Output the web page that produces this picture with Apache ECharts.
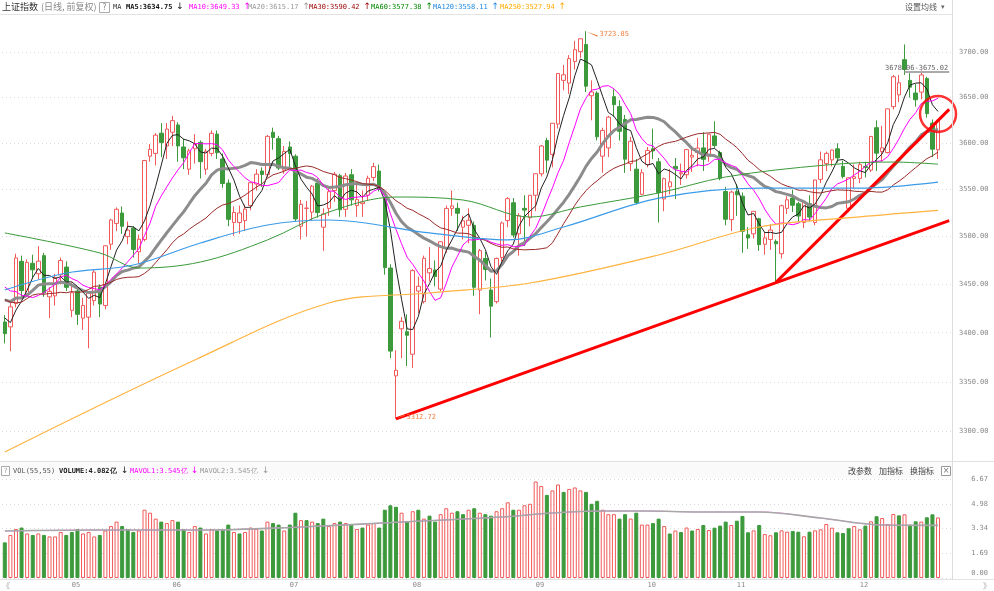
<!DOCTYPE html>
<html><head><meta charset="utf-8">
<script src="https://cdn.jsdelivr.net/npm/echarts@6/dist/echarts.min.js"></script>
<style>html,body{margin:0;padding:0;background:#fff}#c{width:994px;height:591px}</style>
</head><body><div id="c"></div><script>
// ---------- data (read / estimated from the picture) ----------
const dates = ['04-15','04-16','04-19','04-20','04-21','04-22','04-23','04-26','04-27','04-28','04-29','04-30',
'05-06','05-07','05-10','05-11','05-12','05-13','05-14','05-17','05-18','05-19','05-20','05-21','05-24','05-25','05-26','05-27','05-28','05-31',
'06-01','06-02','06-03','06-04','06-07','06-08','06-09','06-10','06-11','06-15','06-16','06-17','06-18','06-21','06-22','06-23','06-24','06-25','06-28','06-29','06-30',
'07-01','07-02','07-05','07-06','07-07','07-08','07-09','07-12','07-13','07-14','07-15','07-16','07-19','07-20','07-21','07-22','07-23','07-26','07-27','07-28','07-29','07-30',
'08-02','08-03','08-04','08-05','08-06','08-09','08-10','08-11','08-12','08-13','08-16','08-17','08-18','08-19','08-20','08-23','08-24','08-25','08-26','08-27','08-30','08-31',
'09-01','09-02','09-03','09-06','09-07','09-08','09-09','09-10','09-13','09-14','09-15','09-16','09-17','09-22','09-23','09-24','09-27','09-28','09-29','09-30',
'10-08','10-11','10-12','10-13','10-14','10-15','10-18','10-19','10-20','10-21','10-22','10-25','10-26','10-27','10-28','10-29',
'11-01','11-02','11-03','11-04','11-05','11-08','11-09','11-10','11-11','11-12','11-15','11-16','11-17','11-18','11-19','11-22','11-23','11-24','11-25','11-26','11-29','11-30',
'12-01','12-02','12-03','12-06','12-07','12-08','12-09','12-10','12-13','12-14','12-15','12-16','12-17','12-20','12-21'];

const opens = [3411,3406,3430,3474,3440,3472,3461,3480,3437,3438,3460,3468,
3423,3443,3415,3416,3433,3447,3428,3492,3514,3525,3500,3509,3484,3497,3586,3589,3611,3597,
3612,3620,3596,3572,3594,3601,3572,3589,3610,3583,3557,3515,3515,3517,3533,3556,3570,3566,3612,3605,3571,
3596,3586,3511,3530,3526,3557,3510,3530,3549,3565,3529,3566,3533,3535,3544,3563,3570,3540,3467,3356,3404,3401,
3378,3443,3432,3462,3465,3445,3488,3530,3530,3510,3512,3512,3444,3477,3444,3432,3478,3517,3536,3503,3530,3520,
3544,3567,3603,3588,3621,3669,3666,3690,3701,3709,3652,3655,3586,3595,3651,3640,3626,3578,3572,3545,
3577,3594,3580,3540,3553,3575,3567,3566,3585,3590,3595,3586,3608,3590,3548,3518,
3548,3543,3502,3503,3519,3492,3497,3495,3482,3530,3541,3535,3515,3535,3515,3561,3578,3582,3594,3575,3530,3562,
3562,3575,3571,3617,3591,3590,3640,3653,3692,3669,3655,3656,3671,3622,3593];

const closes = [3398.99,3426.62,3477.55,3443.44,3472.94,3465.11,3474.17,3441.17,3442.61,3457.07,3474.90,3446.86,
3441.28,3418.87,3427.99,3441.85,3462.75,3429.54,3490.38,3517.62,3529.01,3510.96,3506.94,3486.56,3497.28,3581.34,3593.36,3608.85,3600.78,3615.48,
3624.71,3597.14,3584.22,3591.84,3599.54,3580.11,3591.40,3610.86,3589.75,3556.56,3518.33,3525.60,3525.10,3529.18,3557.41,3566.65,3566.22,3607.56,3606.37,3573.18,3591.20,
3588.78,3518.76,3534.32,3530.26,3553.72,3525.50,3524.09,3547.84,3566.56,3528.50,3564.59,3539.12,3539.30,3536.79,3562.30,3574.73,3550.40,3467.44,3381.18,3361.64,3411.72,3397.36,
3464.29,3447.99,3477.22,3466.44,3458.23,3494.63,3529.93,3532.62,3524.74,3516.76,3517.34,3446.93,3485.29,3465.55,3427.33,3477.04,3514.47,3540.38,3501.66,3522.16,3528.15,3543.94,
3567.10,3597.04,3581.73,3621.86,3676.59,3675.19,3693.13,3703.11,3715.37,3662.60,3656.22,3607.09,3613.97,3628.49,3642.22,3613.07,3582.83,3602.22,3536.29,3568.17,
3592.17,3591.71,3546.94,3561.76,3558.28,3572.37,3568.14,3593.15,3587.00,3594.78,3582.60,3609.86,3597.64,3562.31,3518.42,3547.34,
3544.48,3505.63,3498.54,3526.87,3491.57,3498.63,3507.00,3492.46,3532.79,3539.10,3533.30,3521.79,3537.37,3520.71,3560.37,3582.08,3589.09,3592.70,3584.18,3564.09,3562.70,3563.89,
3576.89,3573.84,3607.43,3589.31,3595.09,3637.57,3673.04,3666.35,3681.08,3661.53,3647.63,3675.02,3632.36,3593.60,3625.13];

const lows = [3389,3381,3426,3435,3437,3456,3455,3437,3415,3428,3450,3443,
3416,3408,3403,3384,3428,3416,3424,3486,3506,3503,3492,3478,3472,3495,3580,3576,3585,3583,
3597,3580,3572,3566,3578,3562,3566,3586,3583,3552,3511,3501,3503,3506,3528,3549,3553,3563,3593,3571,3567,
3574,3516,3497,3500,3517,3520,3485,3522,3537,3521,3521,3533,3521,3521,3538,3559,3548,3460,3374,3312.72,3374,3366,
3364,3420,3430,3453,3448,3443,3483,3522,3506,3497,3493,3438,3419,3454,3395,3430,3473,3510,3499,3480,3490,3511,
3527,3564,3568,3574,3616,3658,3654,3681,3694,3656,3625,3603,3568,3585,3629,3603,3568,3570,3534,3544,
3574,3583,3515,3527,3545,3540,3555,3562,3569,3575,3570,3580,3595,3560,3512,3506,
3522,3483,3487,3498,3485,3481,3486,3452,3477,3524,3526,3515,3509,3516,3512,3557,3570,3575,3579,3562,3526,3551,
3557,3563,3569,3570,3580,3589,3637,3645,3675,3650,3640,3648,3628,3585,3583];

const highs = [3418,3431,3482,3480,3476,3481,3490,3483,3447,3461,3478,3474,
3452,3447,3436,3443,3466,3450,3490,3519,3531,3532,3516,3511,3502,3582,3599,3611,3622,3622,
3630,3623,3605,3594,3610,3603,3594,3614,3614,3589,3561,3532,3533,3534,3558,3572,3574,3609,3617,3608,3597,
3602,3588,3539,3538,3555,3562,3530,3552,3569,3567,3568,3572,3557,3549,3565,3579,3577,3542,3471,3382,3416,3419,
3466,3458,3480,3489,3475,3495,3533,3549,3536,3522,3530,3516,3487,3484,3456,3478,3516,3542,3541,3525,3544,3544,
3567,3598,3606,3622,3676,3686,3697,3713,3715,3723.85,3669,3657,3617,3630,3659,3647,3631,3607,3583,3572,
3596,3616,3584,3563,3572,3584,3578,3594,3595,3606,3612,3610,3624,3592,3553,3549,
3556,3547,3510,3527,3520,3505,3513,3497,3534,3543,3550,3537,3538,3544,3560,3591,3591,3593,3600,3581,3563,3577,
3580,3580,3608,3625,3619,3638,3675,3675,3708.94,3677,3665,3680,3673,3626,3626];

// volume, 亿
const volumes = [2.4,2.9,3.3,3.4,3.0,2.9,3.0,2.9,2.8,2.8,3.1,2.9,
3.1,3.3,3.0,3.1,2.8,2.9,3.2,3.5,3.8,3.5,3.3,3.1,3.2,4.6,4.4,4.0,3.8,3.7,
3.9,3.8,3.3,3.1,3.5,3.4,3.0,3.3,3.2,3.3,3.6,3.1,3.0,3.1,3.4,3.3,3.2,3.8,3.7,3.6,3.2,
3.6,4.4,3.9,3.9,3.8,3.7,4.0,3.5,3.7,3.8,3.7,3.6,3.3,3.4,3.6,3.7,3.4,4.6,4.9,4.8,4.4,3.8,
4.5,4.6,4.0,4.2,3.8,4.3,4.7,4.4,4.5,4.3,4.6,4.7,4.4,4.3,4.2,4.5,4.7,5.1,4.6,4.6,4.9,5.0,
6.5,6.2,5.6,5.9,6.3,5.8,6.0,6.1,5.9,5.8,5.0,5.2,4.6,4.3,4.3,4.0,4.3,4.0,4.4,3.6,
3.6,3.7,4.0,3.5,3.0,3.2,3.1,3.4,3.2,3.3,3.57,3.23,3.39,3.53,3.80,3.57,
3.86,4.18,3.08,3.21,3.57,2.96,2.88,3.08,3.21,3.12,3.17,3.12,2.81,3.12,3.21,3.28,3.64,3.39,3.08,3.03,3.35,3.50,
3.28,3.53,3.82,4.16,4.04,3.64,4.31,4.22,4.29,3.59,3.82,3.80,4.09,4.29,4.08];

// closes before the window (estimates), needed for the short moving averages
const priorCloses = [3503.49,3501.99,3421.41,3359.29,3357.74,3436.83,3453.08,3419.95,3446.73,3445.55,3463.07,3404.66,3443.44,3411.51,3367.06,3363.59,3418.33,3435.30,3456.68,3441.91,3466.33,3484.39,3482.55,3479.63,3482.48,3450.68,3412.95,3396.47,3416.74];

// long moving averages: [day index, value]
const ma60Pts = [[0,3503.9],[17,3482.8],[24,3467.0],[35,3473.3],[47,3496.5],[58,3526.1],[70,3542.1],[82,3538.9],[94,3520.8],[103,3531.5],[117,3546.4],[129,3563.6],[147,3576.5],[159,3579.7],[167,3577.38]];
const ma120Pts = [[0,3444.1],[11,3461.8],[23,3470.2],[35,3493.3],[47,3512.3],[58,3517.6],[76,3503.9],[90,3496.5],[100,3510.2],[117,3541],[135,3551.7],[153,3551.7],[167,3558.11]];
const ma250Pts = [[0,3279.8],[34,3372.1],[58,3430.6],[76,3441.0],[94,3451.4],[117,3480.7],[135,3510.2],[153,3521],[167,3527.94]];
const mavolPts = [[0,3.17],[17,3.23],[35,3.23],[53,3.44],[71,3.77],[89,4.11],[98,4.38],[107,4.51],[115,4.51],[124,4.45],[135,4.45],[146,4.04],[157,3.57],[167,3.545]];

const priceTicks = [3300,3350,3400,3450,3500,3550,3600,3650,3700];
const volTicks = [0,1.69,3.34,4.98,6.67];

const maNames = ['MA5','MA10','MA20','MA30','MA60','MA120','MA250'];
const maValues = ['3634.75','3649.33','3615.17','3590.42','3577.38','3558.11','3527.94'];
const maArrows = ['↓','↑','↑','↑','↑','↑','↑'];

const maxLabel = '3723.85', minLabel = '3312.72', rangeLabel = '3678.06-3675.02';

// ---------- build ----------
const LN = Math.log;
const RED = '#f05a5a', GREEN = '#3c9a3c';
const maColors = ['#222222','#ff00ff','#8c8c8c','#9b2a2a','#3a9a3a','#3c9be6','#ffb340'];
const legColors = ['#111111','#ff00ff','#999999','#990000','#008800','#1e88e5','#ffaa00'];
const cats = dates.concat(['pad1','pad2']);
const allCloses = priorCloses.concat(closes);
function ma(n){
  return closes.map((c,i)=>{const e=i+priorCloses.length;let s=0;for(let k=e-n+1;k<=e;k++)s+=allCloses[k];return LN(s/n);});
}
const candle = closes.map((c,i)=>[LN(opens[i]),LN(c),LN(lows[i]),LN(highs[i])]);
const volData = volumes.map((v,i)=>{
  const prev = i===0 ? priorCloses[priorCloses.length-1] : closes[i-1];
  const up = closes[i] >= prev;
  return {value:v,itemStyle: up ? {color:'#fff',borderColor:RED,borderWidth:1} : {color:GREEN,borderColor:GREEN,borderWidth:1}};
});
const lnPts = pts => pts.map(p=>[p[0],LN(p[1])]);
const isMonthStart = (i)=> i>0 && i<dates.length && dates[i].slice(0,2)!==dates[i-1].slice(0,2);

const MONO = '"DejaVu Sans Mono", monospace';
const CJK = '"Noto Sans CJK SC", sans-serif';
function T(x,y,text,color,font,extra){
  return {type:'text',x:x,y:y,silent:true,z:100,style:Object.assign({text:text,fill:color,font:font,verticalAlign:'middle',align:'left'},extra||{})};
}
const g = [];
g.push({type:'line',silent:true,z:50,shape:{x1:0,y1:14.5,x2:952,y2:14.5},style:{stroke:'#e3e3e3',lineWidth:1}});
g.push({type:'rect',silent:true,z:0,shape:{x:0,y:461,width:952,height:17},style:{fill:'#fafafa'}});
g.push({type:'line',silent:true,z:50,shape:{x1:0,y1:461.5,x2:994,y2:461.5},style:{stroke:'#e0e0e0',lineWidth:1}});
g.push({type:'line',silent:true,z:50,shape:{x1:0,y1:579.5,x2:994,y2:579.5},style:{stroke:'#e3e3e3',lineWidth:1}});
g.push({type:'line',silent:true,z:50,shape:{x1:952.5,y1:0,x2:952.5,y2:580},style:{stroke:'#dcdcdc',lineWidth:1}});
g.push(T(2,7,'上证指数','#333','9px '+CJK));
g.push(T(41,7,'(日线, 前复权)','#888','9px '+CJK));
g.push({type:'rect',silent:true,z:100,shape:{x:99.5,y:2.5,width:10,height:10},style:{fill:'#fff',stroke:'#aaa',lineWidth:1}});
g.push(T(104.5,8,'?','#888','8px '+MONO,{align:'center'}));
g.push(T(113,7,'MA','#333','7px '+MONO));
const maX = [126,189,248,309,371,433,500];
maNames.forEach((n,i)=>{
  const txt = n+':'+maValues[i];
  g.push(T(maX[i],7,txt,legColors[i],(i===0?'bold ':'')+'7px '+MONO));
  g.push(T(maX[i]+txt.length*4.2+4,7,maArrows[i],legColors[i],'9px "DejaVu Sans"'));
});
g.push(T(905,7,'设置均线','#555','8px '+CJK));
g.push(T(941,7,'▾','#666','7px "DejaVu Sans"'));
g.push({type:'rect',silent:true,z:100,shape:{x:1.5,y:466.5,width:8,height:9},style:{fill:'#fff',stroke:'#aaa',lineWidth:1}});
g.push(T(5.5,471.5,'?','#999','7px '+MONO,{align:'center'}));
g.push(T(13,471,'VOL(55,55)','#555','7px '+MONO));
g.push(T(59,471,'VOLUME:4.082亿','#222','bold 7px '+MONO));
g.push(T(121,471,'↓','#222','9px "DejaVu Sans"'));
g.push(T(130,471,'MAVOL1:3.545亿','#ff00ff','7px '+MONO));
g.push(T(191,471,'↓','#ff00ff','9px "DejaVu Sans"'));
g.push(T(200,471,'MAVOL2:3.545亿','#999','7px '+MONO));
g.push(T(262,471,'↓','#999','9px "DejaVu Sans"'));
g.push(T(848,471,'改参数','#444','8px '+CJK));
g.push(T(879,471,'加指标','#444','8px '+CJK));
g.push(T(910,471,'换指标','#444','8px '+CJK));
g.push({type:'rect',silent:true,z:100,shape:{x:941.5,y:466.5,width:9,height:9},style:{fill:'#fff',stroke:'#999',lineWidth:1}});
g.push(T(946,471,'×','#777','8px "DejaVu Sans"',{align:'center'}));
g.push(T(2,586,'《','#aaa','8px '+CJK));
g.push(T(983,586,'》','#aaa','8px '+CJK));

const pMin = 3276.8, pMax = 3742.1;
const option = {
  animation:false,
  backgroundColor:'#ffffff',
  textStyle:{fontFamily:MONO},
  grid:[{left:2,right:42,top:15,height:440},{left:2,right:42,top:479,height:99}],
  xAxis:[
    {type:'category',gridIndex:0,data:cats,boundaryGap:true,axisLine:{show:false},axisTick:{show:false},axisLabel:{show:false},splitLine:{show:false}},
    {type:'category',gridIndex:1,data:cats,boundaryGap:true,axisLine:{show:false},axisTick:{show:false},splitLine:{show:false},
     axisLabel:{show:true,interval:(i)=>isMonthStart(i),formatter:v=>v.slice(0,2),align:'left',color:'#888',fontSize:7,fontFamily:MONO,margin:4,hideOverlap:false}}
  ],
  yAxis:[
    {type:'value',gridIndex:0,position:'right',min:LN(pMin),max:LN(pMax),scale:true,
     axisLine:{show:false},
     axisTick:{show:false,customValues:priceTicks.map(LN)},
     axisLabel:{customValues:priceTicks.map(LN),formatter:v=>Math.exp(v).toFixed(2),color:'#888',fontSize:7,fontFamily:MONO,margin:7},
     splitLine:{show:true,lineStyle:{color:'#d9d9d9',type:[1,3],width:1}}},
    {type:'value',gridIndex:1,position:'right',min:0,max:6.67,
     axisLine:{show:false},
     axisTick:{show:false,customValues:volTicks},
     axisLabel:{customValues:volTicks,formatter:v=>(v===0?'{b|0.00}':v.toFixed(2)),color:'#888',fontSize:7,fontFamily:MONO,margin:36,align:'right',
       rich:{b:{color:'#888',fontSize:7,fontFamily:MONO,padding:[0,0,10,0]}}},
     splitLine:{show:true,lineStyle:{color:'#d9d9d9',type:[1,3],width:1}}}
  ],
  graphic:g,
  series:[
    {type:'candlestick',xAxisIndex:0,yAxisIndex:0,data:candle,barWidth:4,z:2,
     itemStyle:{color:'#ffffff',color0:GREEN,borderColor:RED,borderColor0:GREEN,borderWidth:1},
     markPoint:{silent:true,animation:false,data:[
       {coord:[104,LN(3723.85)],symbol:'path://M0,0L12,4L12,5.5Z',symbolSize:[11,5],symbolOffset:[6,3],itemStyle:{color:'#f08040'},
        label:{show:true,position:'right',distance:2,formatter:maxLabel,color:'#f08040',fontSize:7,fontFamily:MONO}},
       {coord:[70,LN(3312.72)],symbol:'path://M0,6L12,0L12,1.5Z',symbolSize:[9,4],symbolOffset:[4,-2],itemStyle:{color:'#f08040'},
        label:{show:true,position:'right',distance:2,formatter:minLabel,color:'#f08040',fontSize:7,fontFamily:MONO}}
     ]}},
    {type:'line',name:'MA5',data:ma(5),showSymbol:false,z:5,lineStyle:{color:maColors[0],width:1}},
    {type:'line',name:'MA10',data:ma(10),showSymbol:false,z:5,lineStyle:{color:maColors[1],width:1}},
    {type:'line',name:'MA20',data:ma(20),showSymbol:false,z:4,lineStyle:{color:maColors[2],width:3}},
    {type:'line',name:'MA30',data:ma(30),showSymbol:false,z:5,lineStyle:{color:maColors[3],width:1}},
    {type:'line',name:'MA60',data:lnPts(ma60Pts),smooth:0.35,showSymbol:false,z:5,lineStyle:{color:maColors[4],width:1}},
    {type:'line',name:'MA120',data:lnPts(ma120Pts),smooth:0.35,showSymbol:false,z:5,lineStyle:{color:maColors[5],width:1.2}},
    {type:'line',name:'MA250',data:lnPts(ma250Pts),smooth:0.35,showSymbol:false,z:5,lineStyle:{color:maColors[6],width:1.2}},
    {type:'line',name:'trend',data:[],z:20,
     markLine:{silent:true,animation:false,symbol:['none','none'],label:{show:false},
      data:[
        [{coord:[70,LN(3312.72)]},{coord:[169,LN(3517)]}],
        [{coord:[138,LN(3452)]},{coord:[169,LN(3637)]}]
      ],lineStyle:{color:'#ff0000',width:3,type:'solid'}}},
    {type:'line',name:'range',data:[],z:15,
     markLine:{silent:true,animation:false,symbol:['none','none'],
      data:[[{coord:[161,LN(3678.06)]},{coord:[169,LN(3678.06)]}]],
      lineStyle:{color:'#aaaaaa',width:2,type:'solid'},
      label:{show:true,position:'insideEndTop',formatter:rangeLabel,color:'#666',fontSize:7,fontFamily:MONO,distance:1}}},
    {type:'scatter',name:'circle',data:[[167.3,LN(3632)]],symbolSize:36,z:21,silent:true,
     itemStyle:{color:'rgba(0,0,0,0)',borderColor:'#ff0000',borderWidth:2.5}},
    {type:'bar',name:'VOL',xAxisIndex:1,yAxisIndex:1,data:volData,barWidth:4},
    {type:'line',name:'MAVOL1',xAxisIndex:1,yAxisIndex:1,data:mavolPts,smooth:0.35,showSymbol:false,z:5,lineStyle:{color:'#ff00ff',width:0.5}},
    {type:'line',name:'MAVOL2',xAxisIndex:1,yAxisIndex:1,data:mavolPts,smooth:0.35,showSymbol:false,z:6,lineStyle:{color:'#a8a8a8',width:1.6}}
  ]
};
const chart = echarts.init(document.getElementById('c'),null,{renderer:'canvas'});
chart.setOption(option);
</script></body></html>
